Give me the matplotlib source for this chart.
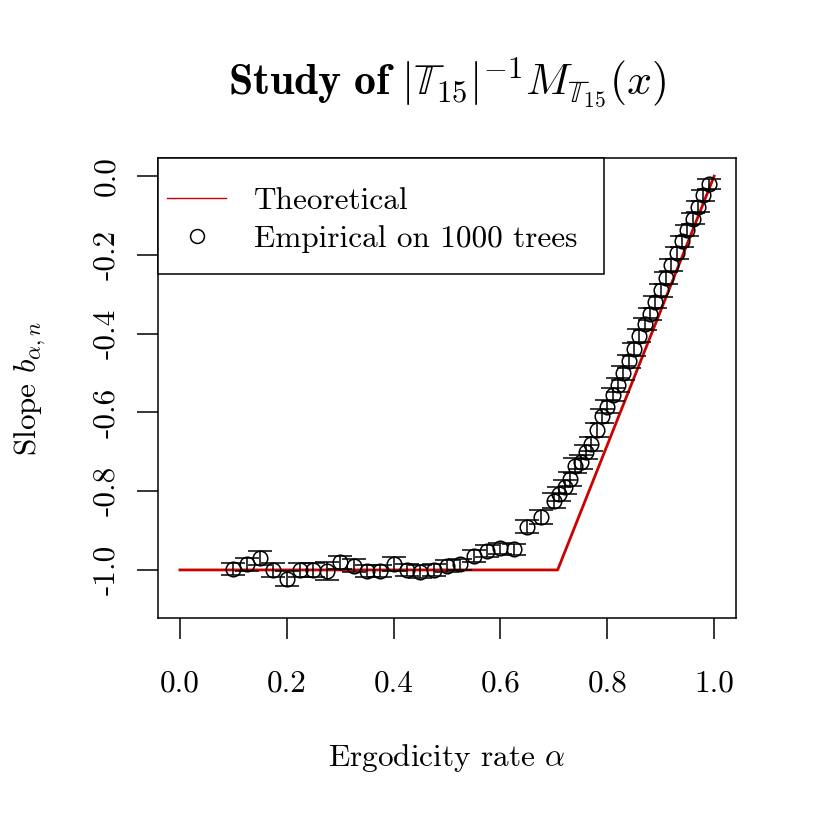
import matplotlib
matplotlib.use('Agg')
import matplotlib.pyplot as plt
from matplotlib.patches import Rectangle

# Courbe théorique (brisée en alpha = 1/sqrt(2))
theo_alpha = [0.0, 0.7071, 1.0]
theo_slope = [-1.0, -1.0, 0.0]

# Estimations empiriques sur 1000 arbres
emp_alpha = [0.100, 0.125, 0.150, 0.175, 0.200, 0.225, 0.250, 0.275, 0.300, 0.325,
             0.350, 0.375, 0.400, 0.425, 0.450, 0.475, 0.500, 0.525, 0.550, 0.575,
             0.600, 0.625, 0.650, 0.675,
             0.70, 0.71, 0.72, 0.73, 0.74, 0.75, 0.76, 0.77, 0.78, 0.79,
             0.80, 0.81, 0.82, 0.83, 0.84, 0.85, 0.86, 0.87, 0.88, 0.89,
             0.90, 0.91, 0.92, 0.93, 0.94, 0.95, 0.96, 0.97, 0.98, 0.99]
emp_slope = [-0.997, -0.986, -0.970, -1.000, -1.022, -1.000, -1.000, -1.003, -0.981, -0.989,
             -1.003, -1.003, -0.984, -1.000, -1.004, -1.000, -0.990, -0.986, -0.964, -0.952,
             -0.945, -0.948, -0.890, -0.866,
             -0.824, -0.807, -0.790, -0.770, -0.735, -0.725, -0.700, -0.680, -0.645, -0.610,
             -0.585, -0.555, -0.530, -0.500, -0.470, -0.440, -0.405, -0.375, -0.350, -0.320,
             -0.290, -0.258, -0.226, -0.196, -0.166, -0.137, -0.108, -0.078, -0.049, -0.020]
emp_err = [0.015, 0.016, 0.017, 0.017, 0.020, 0.018, 0.018, 0.022, 0.016, 0.016,
           0.016, 0.016, 0.018, 0.016, 0.016, 0.016, 0.015, 0.015, 0.015, 0.015,
           0.014, 0.014, 0.016, 0.018,
           0.020, 0.018, 0.018, 0.018, 0.018, 0.018, 0.018, 0.018, 0.018, 0.018,
           0.017, 0.017, 0.017, 0.017, 0.017, 0.017, 0.017, 0.016, 0.016, 0.016,
           0.016, 0.015, 0.015, 0.015, 0.015, 0.014, 0.014, 0.014, 0.013, 0.012]

x_ticks = [0.0, 0.2, 0.4, 0.6, 0.8, 1.0]
x_labels = ['0.0', '0.2', '0.4', '0.6', '0.8', '1.0']
y_ticks = [0.0, -0.2, -0.4, -0.6, -0.8, -1.0]
y_labels = ['0.0', '-0.2', '-0.4', '-0.6', '-0.8', '-1.0']

plt.rcParams['font.family'] = 'serif'
plt.rcParams['font.serif'] = ['cmr10']
plt.rcParams['mathtext.fontset'] = 'cm'
plt.rcParams['axes.unicode_minus'] = False
plt.rcParams['axes.formatter.use_mathtext'] = True

FS = 22.5

fig = plt.figure(figsize=(8.17, 8.17), dpi=100)
ax = fig.add_axes([0.1934, 0.2436, 0.7075, 0.563])

ax.plot(theo_alpha, theo_slope, color='#CD0000', lw=2.0, label='Theoretical', zorder=2)
ax.errorbar(emp_alpha, emp_slope, yerr=emp_err, fmt='o', mfc='none', mec='black',
            ms=10.5, mew=1.1, ecolor='black', elinewidth=1.1, capsize=8.3, capthick=1.1,
            zorder=3)
ax.plot([], [], 'o', mfc='none', mec='black', ms=10, mew=1.1, ls='none',
        label='Empirical on 1000 trees')

ax.set_xlim(-0.041, 1.041)
ax.set_ylim(-1.122, 0.046)
ax.set_xticks(x_ticks, x_labels)
ax.set_yticks(y_ticks, y_labels)
for lab in ax.get_yticklabels():
    lab.set_rotation(90)
    lab.set_va('center')
ax.tick_params(direction='out', length=15, width=1.1, labelsize=FS)
ax.tick_params(axis='x', pad=22)
ax.tick_params(axis='y', pad=12)
for s in ax.spines.values():
    s.set_linewidth(1.1)

ax.set_xlabel(r'Ergodicity rate $\alpha$', fontsize=FS, labelpad=32)
ax.set_ylabel(r'Slope $b_{\alpha,n}$', fontsize=FS, labelpad=32)
fig.text(0.547, 0.9, r'$\mathbf{Study\ of}\ |\mathbb{T}_{15}|^{-1}M_{\mathbb{T}_{15}}(x)$',
         ha='center', va='center', fontsize=31.5)

# cadre de la légende, collé au coin supérieur gauche (style R)
ax.add_patch(Rectangle((0, 0.7478), 0.7716, 0.2522, transform=ax.transAxes,
                       facecolor='white', edgecolor='black', lw=1.1, zorder=4,
                       clip_on=False))
handles, labels = ax.get_legend_handles_labels()
leg = ax.legend([handles[0], handles[-1]], [labels[0], labels[-1]], loc='upper left',
                bbox_to_anchor=(0.0156, 0.937), fontsize=FS, frameon=False,
                borderaxespad=0, borderpad=0, handlelength=1.9, handletextpad=0.87,
                labelspacing=0.315)
leg.set_zorder(5)
leg.get_lines()[0].set_linewidth(1.0)

fig.savefig('out.png', dpi=100)
